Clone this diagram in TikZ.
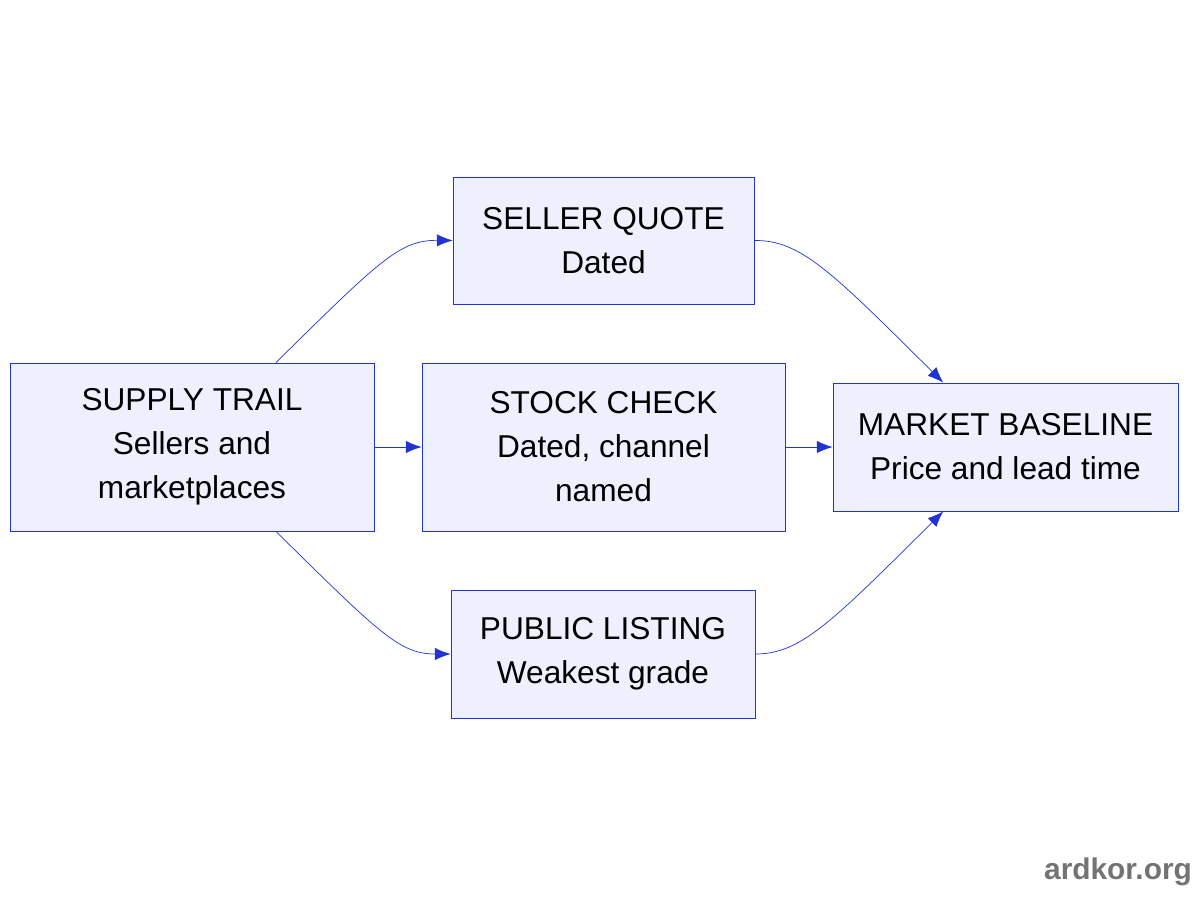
\documentclass[tikz,border=0pt]{standalone}
\usepackage{fontspec}
\setmainfont{Liberation Sans}
\usetikzlibrary{arrows.meta,calc}
\definecolor{edgeblue}{HTML}{2233D6}
\definecolor{boxfill}{HTML}{EEF0FD}
\tikzset{
  flowbox/.style={rectangle, draw=edgeblue, fill=boxfill, align=center, font=\fontsize{18}{25}\selectfont, inner sep=0pt},
  flowline/.style={draw=edgeblue, -{Latex[length=9pt,width=7pt]}}
}

\begin{document}
\begin{tikzpicture}[x=0.02cm, y=-0.02cm]
\useasboundingbox (0,0) rectangle (1200,900);

\node[flowbox, minimum width=7.28cm, minimum height=3.36cm] (trail) at (192,447) {SUPPLY TRAIL\\Sellers and\\marketplaces};
\node[flowbox, minimum width=6.02cm, minimum height=2.54cm] (quote) at (603.5,240.5) {SELLER QUOTE\\Dated};
\node[flowbox, minimum width=7.26cm, minimum height=3.36cm] (stock) at (603.5,447) {STOCK CHECK\\Dated, channel\\named};
\node[flowbox, minimum width=6.08cm, minimum height=2.56cm] (listing) at (603,654) {PUBLIC LISTING\\Weakest grade};
\node[flowbox, minimum width=6.90cm, minimum height=2.56cm] (base) at (1005.5,447) {MARKET BASELINE\\Price and lead time};

\coordinate (trailN) at ($(trail.north west)!0.73!(trail.north east)$);
\coordinate (trailS) at ($(trail.south west)!0.73!(trail.south east)$);
\coordinate (baseN) at ($(base.north west)!0.32!(base.north east)$);
\coordinate (baseS) at ($(base.south west)!0.32!(base.south east)$);

\draw[flowline] (trailN) .. controls (380,260) and (400,240) .. (quote.west);
\draw[flowline] (trail.east) -- (stock.west);
\draw[flowline] (trailS) .. controls (380,634) and (400,654) .. (listing.west);
\draw[flowline] (quote.east) .. controls (800,240) and (830,270) .. (baseN);
\draw[flowline] (stock.east) -- (base.west);
\draw[flowline] (listing.east) .. controls (800,654) and (830,624) .. (baseS);

\node[font=\bfseries\fontsize{17}{20}\selectfont, text=black!55] (mark) at (1118,872) {ardkor.org};
\end{tikzpicture}
\end{document}
